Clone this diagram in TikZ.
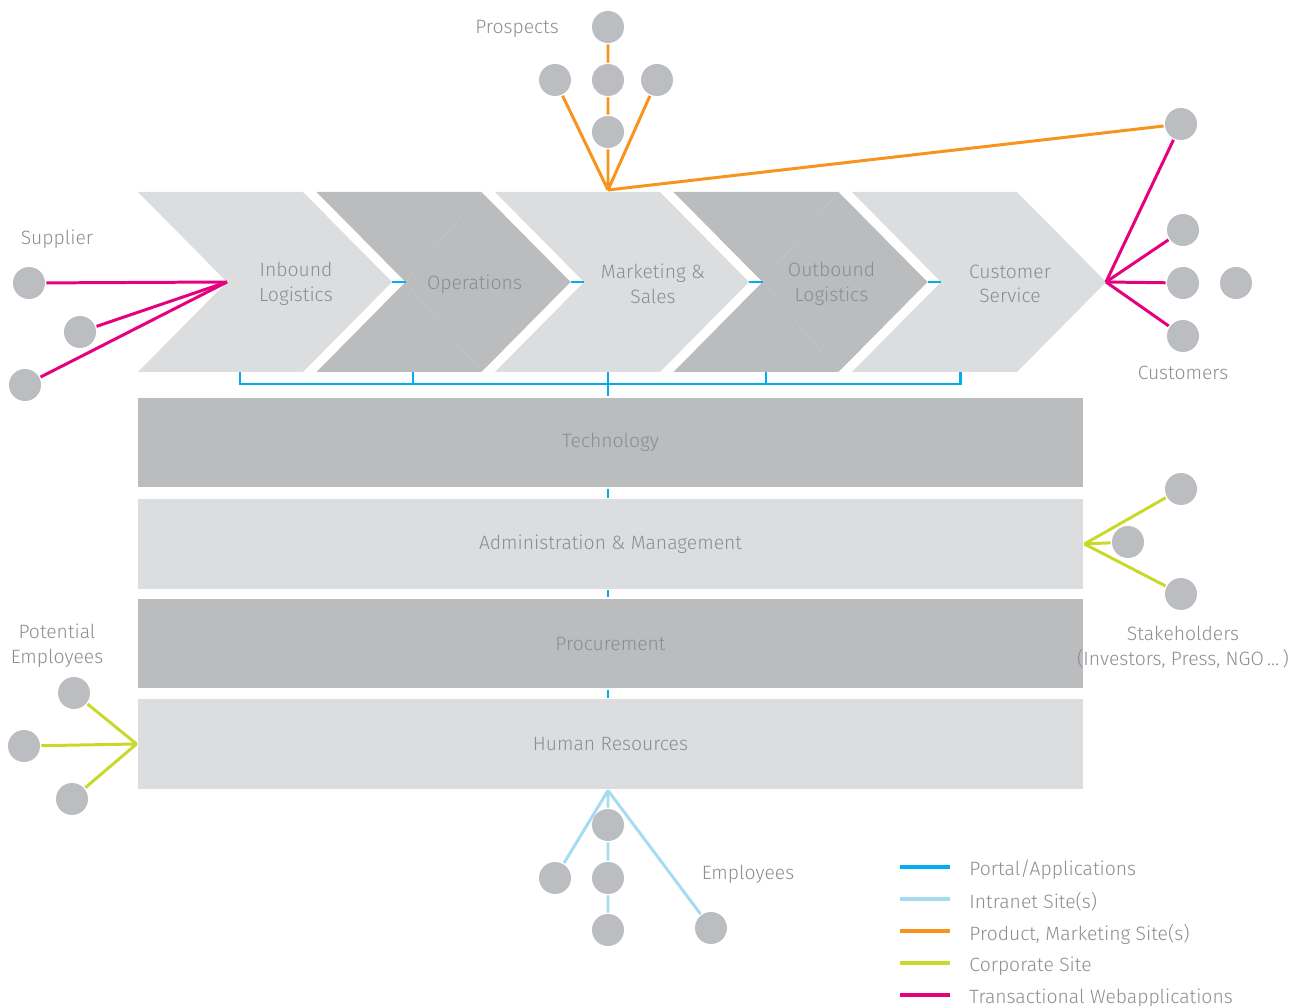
\documentclass[tikz,border=0pt]{standalone}
\usepackage{fontspec}
\setmainfont{Fira Sans}[UprightFont=* Light]
\definecolor{portal}{HTML}{00AEEF}
\definecolor{intranet}{HTML}{A6DBF4}
\definecolor{product}{HTML}{F7941D}
\definecolor{corporate}{HTML}{C9D82A}
\definecolor{transact}{HTML}{E6007E}
\definecolor{darkbox}{HTML}{BBBCBE}
\definecolor{lightbox}{HTML}{DCDDDF}
\definecolor{dotgray}{HTML}{BCBDC0}
\definecolor{txt}{HTML}{8C8D8F}
\begin{document}
\begin{tikzpicture}[x=0.02cm,y=-0.02cm,line width=1.7pt,
	every node/.style={text=txt,font=\fontsize{11}{14}\selectfont,align=center},
	dot/.style={circle,fill=dotgray,minimum size=0.64cm,inner sep=0pt},
	bar/.style={minimum width=18.9cm,minimum height=1.8cm,inner sep=0pt}]
	\useasboundingbox (0,0) rectangle (1313,1006);
	\foreach[count=\k,evaluate={\a=138+178.5*(\k-1);\p=int(100*(1-isodd(\k)))}] 
	\t in {{Inbound\\Logistics},Operations,{Marketing \&\\Sales},{Outbound\\Logistics},{Customer\\Service}}{
		\fill[darkbox!\p!lightbox] (\a,192) -- ++(165,0) -- ++(89,90) -- ++(-89,90) -- ++(-165,0) -- ++(89,-90) -- cycle;
		\draw[white,opacity=.15,line width=.3pt] (\a+165,192) -- (\a+89,282) -- (\a+165,372);
		\coordinate (notch\k) at (\a+89,282);
		\coordinate (tip\k) at (\a+254,282);
		\node (c\k) at (\a+158,284) {\t};
	}
	\foreach \k [count=\j from 2] in {1,...,4}
		\draw[portal] (tip\k) -- (notch\j);
	\node[bar,fill=darkbox] (tech) at (610.5,442.5) {Technology};
	\node[bar,fill=lightbox] (admin) at (610.5,544) {Administration \& Management};
	\node[bar,fill=darkbox] (proc) at (610.5,643.5) {Procurement};
	\node[bar,fill=lightbox] (hr) at (610.5,744) {Human Resources};
	\coordinate (axis) at (608,372);
	\coordinate (b1) at (240,372);
	\coordinate (b5) at (960,372);
	\draw[portal] (b1) -- ++(0,12) -| (b5);
	\foreach \x in {413,766} \draw[portal] (\x,372) -- (\x,384);
	\draw[portal] (axis) -- (axis |- tech.north);
	\draw[portal] (axis |- tech.south) -- (axis |- admin.north);
	\draw[portal] (axis |- admin.south) -- (axis |- proc.north);
	\draw[portal] (axis |- proc.south) -- (axis |- hr.north);
	% prospects
	\node (prosp) at (517,29) {Prospects};
	\foreach \n/\x/\y in {p1/608/27,p2/555/80,p3/608/80,p4/657/80,p5/608/132}
		\node[dot] (\n) at (\x,\y) {};
	\coordinate (phub) at (608,190);
	\draw[product] (phub) -- (p2) (phub) -- (p4) (phub) -- (p5) -- (p3) -- (p1);
	% customers
	\foreach \n/\x/\y in {cu1/1181/124,cu2/1183/230,cu3/1183/283,cu4/1236/283,cu5/1183/336}
		\node[dot] (\n) at (\x,\y) {};
	\node (cust) at (1183,373) {Customers};
	\draw[product] (phub) -- (cu1);
	\foreach \n in {cu1,cu2,cu3,cu5} \draw[transact] (tip5) -- (\n);
	% supplier
	\node (supp) at (57,239) {Supplier};
	\foreach \n/\x/\y in {s1/29/283,s2/80/332,s3/25/385}{
		\node[dot] (\n) at (\x,\y) {};
		\draw[transact] (notch1) -- (\n);
	}
	% stakeholders
	\foreach \n/\x/\y in {st1/1181/489,st2/1128/542,st3/1181/594}{
		\node[dot] (\n) at (\x,\y) {};
		\draw[corporate] (admin.east) -- (\n);
	}
	\node (stake) at (1183,647) {Stakeholders\\(Investors, Press, NGO\,\ldots\,)};
	% potential employees
	\node (pot) at (57,646) {Potential\\Employees};
	\foreach \n/\x/\y in {pe1/74/693,pe2/24/746,pe3/72/799}{
		\node[dot] (\n) at (\x,\y) {};
		\draw[corporate] (hr.west) -- (\n);
	}
	% employees
	\foreach \n/\x/\y in {e1/608/825,e2/555/878,e3/608/878,e4/608/930,e5/711/928}
		\node[dot] (\n) at (\x,\y) {};
	\coordinate (ehub) at (axis |- hr.south);
	\draw[intranet] (ehub) -- (e2) (ehub) -- (e5) (ehub) -- (e1) -- (e3) -- (e4);
	\node (empl) at (748,874) {Employees};
	% legend
	\foreach[count=\i,evaluate={\y=867+32*(\i-1)}] \col/\t in {portal/{Portal/Applications},intranet/{Intranet Site(s)},product/{Product, Marketing Site(s)},corporate/{Corporate Site},transact/{Transactional Webapplications}}{
		\draw[\col,line width=2pt] (900,\y) -- (950,\y);
		\node[anchor=west,inner sep=0pt] (leg\i) at (968,\y+3) {\t};
	}
\end{tikzpicture}
\end{document}
